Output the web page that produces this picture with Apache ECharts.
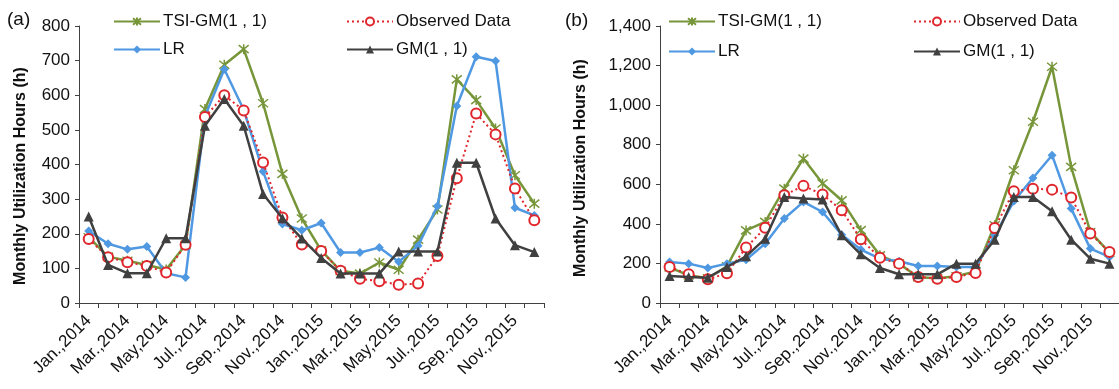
<!DOCTYPE html>
<html><head><meta charset="utf-8">
<script src="https://cdn.jsdelivr.net/npm/echarts@6/dist/echarts.min.js"></script>
<style>html,body{margin:0;padding:0;background:#fff}#c{width:1119px;height:389px}</style>
</head><body><div id="c"></div>
<script>
const months = ['Jan.,2014','Feb.,2014','Mar.,2014','Apr.,2014','May,2014','Jun.,2014','Jul.,2014','Aug.,2014','Sep.,2014','Oct.,2014','Nov.,2014','Dec.,2014',
                'Jan.,2015','Feb.,2015','Mar.,2015','Apr.,2015','May,2015','Jun.,2015','Jul.,2015','Aug.,2015','Sep.,2015','Oct.,2015','Nov.,2015','Dec.,2015'];
// Panel (a)
const tsiA = [190,134,122,110,97,168,560,688,733,577,373,244,152,93,85,117,96,183,270,646,586,504,369,287];
const lrA  = [208,171,155,163,86,74,539,675,558,380,228,210,231,146,146,160,119,165,280,569,711,699,275,253];
const obsA = [185,132,118,107,88,168,537,600,556,406,247,169,150,93,70,63,53,56,136,360,547,487,331,239];
const gmA  = [250,110,86,86,187,187,512,589,512,315,245,186,130,85,85,85,149,149,149,405,405,244,167,147];
// Panel (b)
const tsiB = [180,140,125,185,367,410,578,730,604,519,368,241,199,130,125,135,160,393,671,916,1194,688,359,255];
const lrB  = [207,199,177,199,219,300,427,511,460,345,270,224,211,187,187,182,182,342,514,632,747,477,275,233];
const obsB = [182,145,120,150,280,380,545,592,548,469,322,229,199,132,123,132,152,379,565,578,573,533,351,258];
const gmB  = [137,132,128,182,236,325,536,528,523,342,246,177,145,145,145,199,199,320,536,536,464,320,224,199];

const N_TSI = 'TSI-GM(1 , 1)', N_LR = 'LR', N_OBS = 'Observed Data', N_GM = 'GM(1 , 1)';
const GREEN = '#77963a', BLUE = '#4f98e2', RED = '#e0262c', GRAY = '#404040';
const FONT = 'Liberation Sans, Arial, sans-serif';
const starPath = 'path://M0,1L10,9M10,1L0,9M5,0L5,10';

function series(idx, name, data){
  const base = {name, type:'line', data, xAxisIndex:idx, yAxisIndex:idx, animation:false};
  if (name === N_TSI) return Object.assign(base,{z:2, color:GREEN, symbol:starPath, symbolSize:10,
      itemStyle:{color:GREEN,borderColor:GREEN,borderWidth:1.5}, lineStyle:{width:2.5,color:GREEN}});
  if (name === N_LR) return Object.assign(base,{z:3, color:BLUE, symbol:'diamond', symbolSize:9,
      itemStyle:{color:BLUE}, lineStyle:{width:2.5,color:BLUE}});
  if (name === N_OBS) return Object.assign(base,{z:4, color:RED, symbol:'emptyCircle', symbolSize:10,
      itemStyle:{color:RED,borderWidth:1.6}, lineStyle:{width:2,color:RED,type:[2,3]}});
  return Object.assign(base,{z:5, color:GRAY, symbol:'triangle', symbolSize:10,
      itemStyle:{color:GRAY}, lineStyle:{width:2.5,color:GRAY}});
}

function xAxis(idx){
  return {type:'category', gridIndex:idx, data:months, boundaryGap:true,
    axisLine:{lineStyle:{color:GRAY,width:1}},
    axisTick:{show:true, interval:0, length:5, lineStyle:{color:GRAY}},
    axisLabel:{interval:1, rotate:45, margin:15, color:'#111', fontSize:17, fontFamily:FONT}};
}
function yAxis(idx, max, interval){
  return {type:'value', gridIndex:idx, min:0, max, interval,
    axisLine:{show:true, lineStyle:{color:GRAY,width:1}},
    axisTick:{show:true, length:4, lineStyle:{color:GRAY}},
    splitLine:{show:false},
    axisLabel:{margin:9, color:'#111', fontSize:17, fontFamily:FONT,
      formatter:v=>v.toLocaleString('en-US')}};
}
function legend(name, left, top){
  return {data:[name], left, top, padding:0, itemWidth:46, itemHeight:10, itemGap:0,
    textStyle:{fontSize:17, fontFamily:FONT, color:'#111', padding:[0,0,0,-2]}};
}

const chart = echarts.init(document.getElementById('c'), null, {renderer:'canvas'});
chart.setOption({
  backgroundColor:'#fff',
  animation:false,
  grid:[{left:79, top:26, width:465, height:277}, {left:660, top:26, width:465, height:277}],
  xAxis:[xAxis(0), xAxis(1)],
  yAxis:[yAxis(0,800,100), yAxis(1,1400,200)],
  legend:[
    legend(N_TSI,113,13), legend(N_LR,113,41), legend(N_OBS,346,13), legend(N_GM,346,41),
    legend(N_TSI,668,13), legend(N_LR,668,43), legend(N_OBS,913,13), legend(N_GM,913,43)
  ],
  graphic:[
    {type:'text', left:7, top:10, style:{text:'(a)', font:'19px '+FONT, fill:'#111'}},
    {type:'text', left:565, top:11, style:{text:'(b)', font:'19px '+FONT, fill:'#111'}},
    {type:'text', x:21, y:176, rotation:Math.PI/2, style:{text:'Monthly Utilization Hours (h)',
      font:'bold 16px "Liberation Sans Narrow", "Arial Narrow", '+FONT, fill:'#111', align:'center', verticalAlign:'middle'}},
    {type:'text', x:581, y:168, rotation:Math.PI/2, style:{text:'Monthly Utilization Hours (h)',
      font:'bold 16px "Liberation Sans Narrow", "Arial Narrow", '+FONT, fill:'#111', align:'center', verticalAlign:'middle'}}
  ],
  series:[
    series(0,N_TSI,tsiA), series(0,N_LR,lrA), series(0,N_OBS,obsA), series(0,N_GM,gmA),
    series(1,N_TSI,tsiB), series(1,N_LR,lrB), series(1,N_OBS,obsB), series(1,N_GM,gmB)
  ]
});
</script></body></html>
